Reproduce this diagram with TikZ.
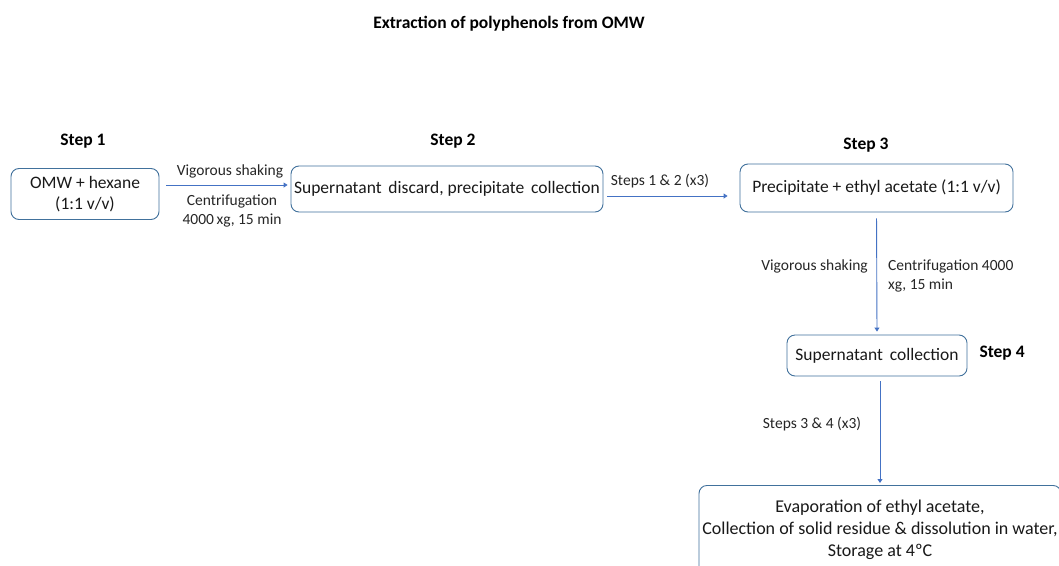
\documentclass[tikz,border=0pt]{standalone}
\usepackage{fontspec}
\setmainfont{Carlito}
\usetikzlibrary{arrows.meta}
\definecolor{boxc}{HTML}{41719C}
\definecolor{arrc}{HTML}{4472C4}
\tikzset{
  stepbox/.style={draw=boxc, line width=0.9pt, rounded corners=8pt, inner sep=0pt, align=center, text=black!90, font=\fontsize{17.5}{21}\selectfont},
  steplbl/.style={font=\bfseries\fontsize{17.5}{20}\selectfont, text=black},
  lbl/.style={font=\fontsize{15.5}{19}\selectfont, text=black!85, align=center, inner sep=0pt},
  conn/.style={draw=arrc, line width=0.9pt, -{Triangle[width=5pt,length=4pt]}},
}
\begin{document}
\begin{tikzpicture}[x=1pt,y=-1pt]
\useasboundingbox (0,0) rectangle (1059,565);
\fill[white] (0,0) rectangle (1059,565);
\node[font=\bfseries\fontsize{17.5}{20}\selectfont] (title) at (509,24) {Extraction of polyphenols from OMW};

\node[steplbl] (s1) at (83,141) {Step 1};
\node[steplbl] (s2) at (453,141) {Step 2};
\node[steplbl] (s3) at (866,145) {Step 3};

\node[stepbox, minimum width=148pt, minimum height=51pt] (b1) at (85,194) {OMW + hexane\\(1:1 v/v)};
\node[stepbox, minimum width=312pt, minimum height=46pt] (b2) at (447,189) {Supernatant\, discard, precipitate\, collection};
\node[stepbox, minimum width=273pt, minimum height=48pt] (b3) at (876.5,188) {Precipitate + ethyl acetate (1:1 v/v)};
\node[stepbox, minimum width=180pt, minimum height=41pt] (b4) at (877,355.5) {Supernatant\, collection};
\node[steplbl, anchor=west] (s4) at (976,353) {Step 4};
\node[stepbox, minimum width=362pt, minimum height=90pt, anchor=north] (b5) at (880,485) {};
\node[align=center, font=\fontsize{18}{22}\selectfont, text=black!90, inner sep=0pt] (t5) at (880,530) {Evaporation of ethyl acetate,\\Collection of solid residue \& dissolution in water,\\Storage at 4ºC};

\draw[conn, shorten <=7pt, shorten >=3pt] (b1.east |- 0,185) coordinate (a1s) -- (b2.west |- 0,185) coordinate (a1e);
\node[lbl] (l1a) at (230,171) {Vigorous shaking};
\node[lbl] (l1b) at (232,211) {Centrifugation\\4000\,xg, 15 min};

\draw[conn, shorten <=4pt, shorten >=12pt] (b2.east |- 0,196) coordinate (a2s) -- (b3.west |- 0,196) coordinate (a2e);
\node[lbl] (l2) at (660,181) {Steps 1 \& 2 (x3)};

\draw[conn, shorten <=6pt, shorten >=3pt] (b3.south) -- (b4.north);
\node[lbl, anchor=east] (l3a) at (868,266) {Vigorous shaking};
\node[lbl, anchor=west, align=left] (l3b) at (888,276) {Centrifugation 4000\\xg, 15 min};

\draw[conn, shorten <=5pt, shorten >=2pt] (b4.south -| 880,0) coordinate (a4s) -- (b5.north -| 880,0) coordinate (a4e);
\node[lbl] (l4) at (812,424) {Steps 3 \& 4 (x3)};
\end{tikzpicture}
\end{document}
